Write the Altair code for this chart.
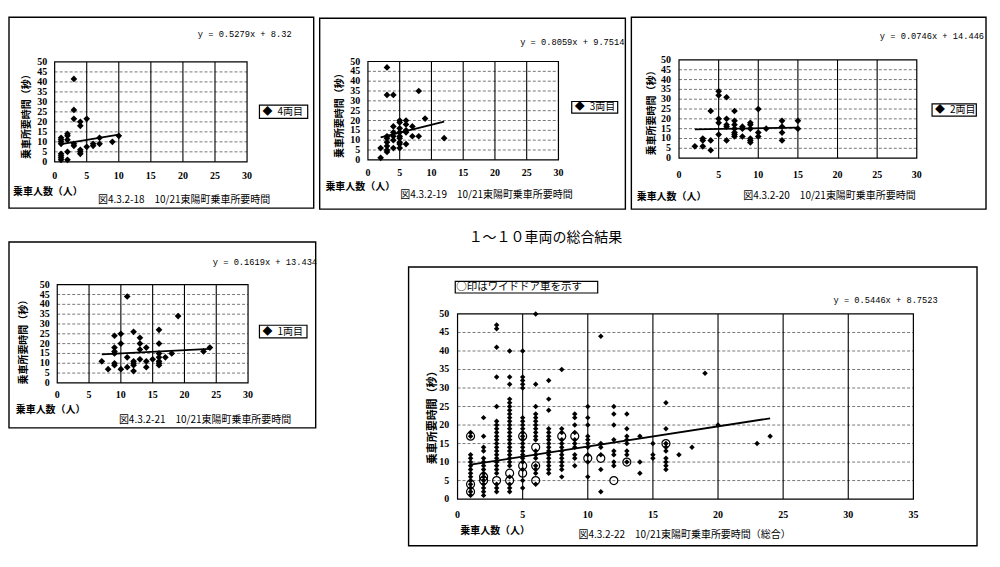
import altair as alt
import pandas as pd

# ---------------- data ----------------
# panel 1 : 4両目
p1_x = [3, 3, 3, 4, 4, 5, 1, 1, 1, 1, 1, 1, 1, 1, 2, 2, 2, 2, 2, 3, 3, 4, 4, 4, 5, 6, 6, 7, 7, 9, 10]
p1_y = [41.5, 26, 21.5, 20, 18, 21.5, 12, 11, 10, 9, 4, 3, 2, 1, 14, 13, 11, 5, 1, 9, 8, 6, 5, 4, 7.5, 9, 8, 12, 9, 10, 13]
# panel 2 : 3両目
p2_x = [3, 3, 4, 8, 9, 12, 2, 2, 3, 3, 3, 3, 3, 3, 4, 4, 4, 4, 4,
        5, 5, 5, 5, 5, 5, 5, 5, 5, 6, 6, 6, 6, 6, 7, 7, 8]
p2_y = [47, 33, 33, 35, 21, 11, 6, 1, 12, 11, 9, 7, 5, 4, 17, 14, 12, 10, 6,
        20, 19, 16, 14, 12, 11, 9, 8, 6, 20, 18, 15, 14, 8, 17, 12, 12]
# panel 3 : 2両目
p3_x = [2, 3, 3, 3, 4, 4, 4, 5, 5, 5, 5, 5, 6, 6, 6, 6, 6, 7, 7, 7, 7, 7, 7, 7,
        8, 8, 8, 9, 9, 9, 9, 9, 9, 10, 10, 10, 11, 13, 13, 13, 13, 15, 15]
p3_y = [6, 10, 9, 6, 24, 9, 4, 34, 32, 20, 18, 12, 31, 20, 17, 16, 9, 24, 19, 17, 15, 13, 12, 11,
        16, 15, 11, 18, 17, 15, 10, 9, 8, 25, 13, 11, 15, 19, 16, 13, 9, 19, 15]
# panel 4 : 1両目
p4_x = [11, 19, 7, 8, 9, 9, 9, 9, 9, 9, 10, 10, 10, 11, 11, 12, 12, 12, 12, 12,
        13, 13, 13, 13, 14, 14, 14, 15, 16, 16, 16, 16, 16, 16, 16, 17, 18, 23, 24]
p4_y = [44, 34, 11, 7, 24, 18, 16, 15, 10, 9, 25, 20, 7, 13, 8, 26, 11, 10, 9, 6,
        23, 20, 17, 12, 18, 11, 8, 12, 27, 20, 15, 13, 11, 10, 9, 13, 15, 16, 18]
# panel 5 : all cars (boarding count -> list of times)
p5_cols = [1, 2, 3, 4, 5, 6, 7, 8, 9, 10, 11, 12, 13, 14, 15, 16, 17, 18, 19, 20, 23, 24]
p5_vals = [
    [18, 17, 12, 11, 10, 9, 8, 7, 6, 5, 4, 3, 2, 1],
    [22, 17, 14, 13, 11, 10, 9, 8, 7, 6, 5, 4, 3, 2, 1],
    [47, 46, 41, 33, 25, 21, 20, 19, 18, 17, 16, 15, 14, 13, 12, 11, 10, 9, 8, 7, 4, 3, 2],
    [40, 33, 31, 27, 26, 25, 24, 23, 22, 21, 20, 19, 18, 17, 16, 15, 14, 13, 12, 11, 10, 9, 6, 4, 3, 2],
    [40, 33, 32, 31, 30, 22, 21, 20, 19, 18, 17, 16, 15, 14, 13, 12, 11, 10, 8, 5, 3],
    [50, 31, 25, 23, 22, 21, 20, 19, 18, 17, 16, 13, 12, 11, 9, 8, 7, 4],
    [32, 27, 24, 19, 18, 17, 16, 15, 14, 13, 12, 11, 10, 9, 8, 7],
    [35, 19, 18, 16, 15, 14, 13, 12, 11, 10, 9, 8, 6],
    [23, 22, 20, 18, 16, 15, 14, 12, 11, 9],
    [25, 22, 20, 17, 16, 15, 14, 12, 10, 6],
    [44, 15, 14, 12, 8, 2],
    [25, 23, 20, 16, 13, 12, 10, 9],
    [23, 19, 17, 16, 15, 13, 12, 10],
    [17, 10, 7],
    [15, 12, 11],
    [26, 19, 15, 14, 13, 11, 10, 9, 8],
    [12], [14], [34], [20], [15], [17],
]
# wide-door cars (open circles)
p5_wide_x = [1, 1, 1, 2, 2, 3, 4, 4, 5, 5, 5, 6, 6, 6, 8, 9, 10, 11, 12, 13, 16]
p5_wide_y = [17, 4, 2, 6, 5, 5, 7, 5, 17, 9, 7, 14, 9, 5, 17, 17, 11, 11, 5, 10, 15]

fit_slope = [0.5279, 0.8059, 0.0746, 0.1619, 0.5446]
fit_icept = [8.32, 9.7514, 14.446, 13.434, 8.7523]
fit_xmin = [1, 2, 2, 7, 1]
fit_xmax = [10, 12, 15, 24, 24]
eq_text = ["y = 0.5279x + 8.32", "y = 0.8059x + 9.7514", "y = 0.0746x + 14.446",
           "y = 0.1619x + 13.434", "y = 0.5446x + 8.7523"]
series_names = ["4両目", "3両目", "2両目", "1両目"]
captions = ["図4.3.2-18　10/21東陽町乗車所要時間", "図4.3.2-19　10/21東陽町乗車所要時間",
            "図4.3.2-20　10/21東陽町乗車所要時間", "図4.3.2-21　10/21東陽町乗車所要時間",
            "図4.3.2-22　10/21東陽町乗車所要時間（総合）"]
y_ticks = [0, 5, 10, 15, 20, 25, 30, 35, 40, 45, 50]
x_ticks_30 = [0, 5, 10, 15, 20, 25, 30]
x_ticks_35 = [0, 5, 10, 15, 20, 25, 30, 35]
x_title = "乗車人数（人）"
y_title = "乗車所要時間（秒）"
main_title = "１～１０車両の総合結果"
note_text = "○印はワイドドア車を示す"

# ---------------- layout (page pixel positions) ----------------
LAYOUT = [
    dict(box=(8, 17, 313, 208), px=(53.7, 246.3), py=(161.7, 61.7), xmax=30, ylab=46.3, xlab=175.7,
         yt=(26.3, 114), xt=(12, 191.7), cap=(97, 200), eq=(197, 33.3), leg=(258.7, 105, 307, 118.3)),
    dict(box=(319, 18, 625, 209), px=(367.3, 558), py=(159.7, 61.3), xmax=30, ylab=359.7, xlab=172.8,
         yt=(339.7, 113), xt=(324.7, 187), cap=(399.7, 194.5), eq=(519.7, 41.3), leg=(571.3, 101.3, 617.3, 113)),
    dict(box=(631, 17, 986, 209), px=(678.7, 916.7), py=(158, 59.7), xmax=30, ylab=670.7, xlab=174.7,
         yt=(651.3, 110.3), xt=(636.3, 197), cap=(743, 196), eq=(879.7, 36), leg=(932, 103.7, 976.3, 116)),
    dict(box=(8, 242, 315, 428), px=(56.3, 247.3), py=(383, 284.7), xmax=30, ylab=48.7, xlab=394.7,
         yt=(23, 339.7), xt=(14.7, 410.3), cap=(118, 420.3), eq=(212, 262.3), leg=(258.7, 325.3, 306.3, 338)),
    dict(box=(408, 267, 977, 546), px=(457, 913.3), py=(499.3, 314), xmax=35, ylab=448.7, xlab=515,
         yt=(432, 415), xt=(459.7, 531.7), cap=(578, 535), eq=(833.3, 299.7), note=(454.7, 281.3, 597.3, 293)),
]

CJK = "Noto Sans CJK JP"
NUM = "Liberation Serif"
MONO = "Liberation Mono"


def P(v):
    return v - 8


one = pd.DataFrame({"k": [0]})


def panel(i, xs_data, ys_data, wide=None):
    L = LAYOUT[i]
    xmax = L["xmax"]
    xsc = alt.Scale(domain=[0, xmax], range=[P(L["px"][0]), P(L["px"][1])], nice=False, zero=False)
    ysc = alt.Scale(domain=[0, 50], range=[P(L["py"][0]), P(L["py"][1])], nice=False, zero=False)

    def X(f):
        return alt.X(f, scale=xsc, axis=None)

    def Y(f):
        return alt.Y(f, scale=ysc, axis=None)

    xt = x_ticks_35 if xmax == 35 else x_ticks_30
    b = L["box"]
    layers = []
    layers.append(alt.Chart(one).mark_rect(fill="white", stroke="black", strokeWidth=1.4).encode(
        x=alt.value(P(b[0])), x2=alt.value(P(b[2])), y=alt.value(P(b[1])), y2=alt.value(P(b[3]))))
    hg = pd.DataFrame({"v": y_ticks[1:-1]})
    hg["a"] = 0
    hg["b"] = xmax
    layers.append(alt.Chart(hg).mark_rule(color="#777777", strokeWidth=1, strokeDash=[3, 2]).encode(
        x=X("a:Q"), x2="b:Q", y=Y("v:Q")))
    vg = pd.DataFrame({"v": xt[1:-1]})
    vg["a"] = 0
    vg["b"] = 50
    layers.append(alt.Chart(vg).mark_rule(color="black", strokeWidth=1.1).encode(
        x=X("v:Q"), y=Y("a:Q"), y2="b:Q"))
    fr = pd.DataFrame({"a": [0], "b": [xmax], "c": [0], "d": [50]})
    layers.append(alt.Chart(fr).mark_rect(fill="transparent", stroke="black", strokeWidth=1.2).encode(
        x=X("a:Q"), x2="b:Q", y=Y("c:Q"), y2="d:Q"))
    pts = pd.DataFrame({"x": xs_data, "y": ys_data})
    size = 30 if i == 4 else 45
    layers.append(alt.Chart(pts).mark_point(shape="diamond", filled=True, color="black", size=size, opacity=1).encode(
        x=X("x:Q"), y=Y("y:Q")))
    if wide is not None:
        wd = pd.DataFrame({"x": wide[0], "y": wide[1]})
        layers.append(alt.Chart(wd).mark_point(shape="circle", filled=False, color="black", size=64,
                                               strokeWidth=1.2, opacity=1).encode(x=X("x:Q"), y=Y("y:Q")))
    x0, x1 = fit_xmin[i], fit_xmax[i]
    fl = pd.DataFrame({"x": [x0, x1], "y": [fit_slope[i] * x0 + fit_icept[i], fit_slope[i] * x1 + fit_icept[i]]})
    layers.append(alt.Chart(fl).mark_line(color="black", strokeWidth=1.8).encode(x=X("x:Q"), y=Y("y:Q")))
    # tick labels
    xl = pd.DataFrame({"v": xt, "lab": [str(t) for t in xt]})
    layers.append(alt.Chart(xl).mark_text(font=NUM, fontSize=10, fontWeight="bold", baseline="middle",
                                          align="center", color="black").encode(
        x=X("v:Q"), y=alt.value(P(L["xlab"])), text="lab:N"))
    yl = pd.DataFrame({"v": y_ticks, "lab": [str(t) for t in y_ticks]})
    layers.append(alt.Chart(yl).mark_text(font=NUM, fontSize=10, fontWeight="bold", baseline="middle",
                                          align="right", color="black").encode(
        x=alt.value(P(L["ylab"])), y=Y("v:Q"), text="lab:N"))
    fs_t = 11 if i == 4 else 10
    layers.append(alt.Chart(one).mark_text(text=y_title, font=CJK, fontSize=fs_t, fontWeight="bold", angle=270,
                                           align="center", baseline="middle", color="black").encode(
        x=alt.value(P(L["yt"][0])), y=alt.value(P(L["yt"][1]))))
    layers.append(alt.Chart(one).mark_text(text=x_title, font=CJK, fontSize=10, fontWeight="bold",
                                           align="left", baseline="middle", color="black").encode(
        x=alt.value(P(L["xt"][0])), y=alt.value(P(L["xt"][1]))))
    layers.append(alt.Chart(one).mark_text(text=captions[i], font=CJK, fontSize=10,
                                           align="left", baseline="middle", color="black").encode(
        x=alt.value(P(L["cap"][0])), y=alt.value(P(L["cap"][1]))))
    layers.append(alt.Chart(one).mark_text(text=eq_text[i], font=MONO, fontSize=8.7,
                                           align="left", baseline="middle", color="black").encode(
        x=alt.value(P(L["eq"][0])), y=alt.value(P(L["eq"][1]))))
    if "leg" in L:
        lg = L["leg"]
        layers.append(alt.Chart(one).mark_rect(fill="white", stroke="black", strokeWidth=1.2).encode(
            x=alt.value(P(lg[0])), x2=alt.value(P(lg[2])), y=alt.value(P(lg[1])), y2=alt.value(P(lg[3]))))
        layers.append(alt.Chart(one).mark_text(text="◆\u2002" + series_names[i], font=CJK, fontSize=10,
                                               align="left", baseline="middle", color="black").encode(
            x=alt.value(P(lg[0]) + 3), y=alt.value(P((lg[1] + lg[3]) / 2))))
    if "note" in L:
        nb = L["note"]
        layers.append(alt.Chart(one).mark_rect(fill="white", stroke="black", strokeWidth=1.2).encode(
            x=alt.value(P(nb[0])), x2=alt.value(P(nb[2])), y=alt.value(P(nb[1])), y2=alt.value(P(nb[3]))))
        layers.append(alt.Chart(one).mark_text(text=note_text, font=CJK, fontSize=10.5,
                                               align="left", baseline="middle", color="black").encode(
            x=alt.value(P(nb[0]) + 1), y=alt.value(P((nb[1] + nb[3]) / 2))))
    return layers


p5_x = [c for c, vals in zip(p5_cols, p5_vals) for _ in vals]
p5_y = [v for vals in p5_vals for v in vals]

layers = []
layers += panel(0, p1_x, p1_y)
layers += panel(1, p2_x, p2_y)
layers += panel(2, p3_x, p3_y)
layers += panel(3, p4_x, p4_y)
layers += panel(4, p5_x, p5_y, wide=(p5_wide_x, p5_wide_y))
layers.append(alt.Chart(one).mark_text(text=main_title, font=CJK, fontSize=14, align="center",
                                       baseline="middle", color="black").encode(
    x=alt.value(P(545)), y=alt.value(P(238))))

chart = alt.layer(*layers).resolve_scale(x="independent", y="independent").properties(
    width=984, height=551, padding=0, background="white"
).configure_view(stroke=None)

chart.save("out.html", embed_options={"renderer": "svg", "actions": False})
